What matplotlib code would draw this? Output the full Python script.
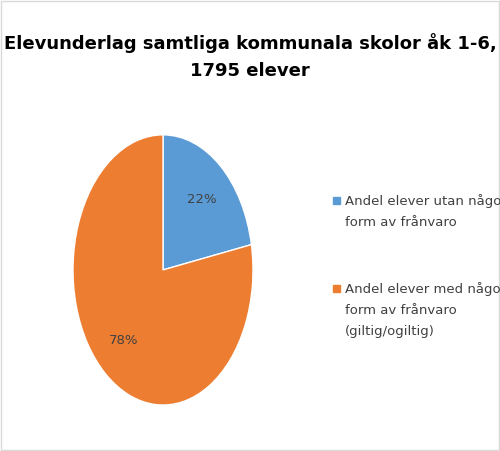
import matplotlib
matplotlib.use("Agg")
import matplotlib.pyplot as plt
from matplotlib.patches import Rectangle

title = "Elevunderlag samtliga kommunala skolor åk 1-6,\n1795 elever"
labels = ["Andel elever utan någon\nform av frånvaro",
          "Andel elever med någon\nform av frånvaro\n(giltig/ogiltig)"]
values = [22, 78]
colors = ["#5b9bd5", "#ed7d31"]

plt.rcParams["font.family"] = ["Liberation Sans Narrow", "DejaVu Sans"]

fig = plt.figure(figsize=(5, 4.51), dpi=100)
fig.patches.append(Rectangle((0.002, 0.002), 0.996, 0.996, transform=fig.transFigure,
                             fill=False, edgecolor="#d9d9d9", lw=1))

fig.text(0.5, 0.875, title, ha="center", va="center", fontsize=13,
         fontweight="bold", linespacing=1.6)

ax = fig.add_axes([0.146, 0.102, 0.36, 0.599])
wedges, _, autotexts = ax.pie(values, colors=colors, startangle=90, counterclock=False,
                              autopct="%d%%", pctdistance=0.68,
                              wedgeprops=dict(edgecolor="white", linewidth=1),
                              textprops=dict(fontsize=9.5, color="#404040"))
ax.set_aspect("auto")
ax.set_xlim(-1, 1)
ax.set_ylim(-1, 1)

# legend
ys = [0.555, 0.36]
for y, lab, c in zip(ys, labels, colors):
    fig.patches.append(Rectangle((0.666, y - 0.008), 0.014, 0.016,
                                 transform=fig.transFigure, color=c))
    fig.text(0.69, y + 0.014, lab, ha="left", va="top", fontsize=9.5,
             color="#404040", linespacing=1.8)

fig.savefig("out.png", dpi=100)
